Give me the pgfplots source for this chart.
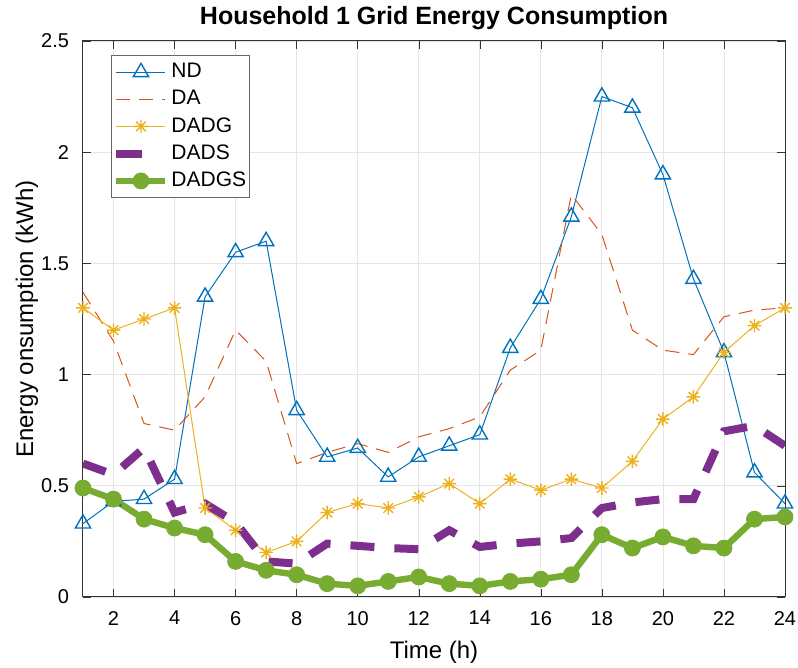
\documentclass[border=0pt]{standalone}
\usepackage{pgfplots}
\pgfplotsset{compat=1.18}
\usepackage{fontspec}
\setmainfont{Liberation Sans}
\definecolor{cND}{rgb}{0,0.447,0.741}
\definecolor{cDA}{rgb}{0.85,0.325,0.098}
\definecolor{cDADG}{rgb}{0.929,0.694,0.125}
\definecolor{cDADS}{rgb}{0.494,0.184,0.556}
\definecolor{cDADGS}{rgb}{0.466,0.674,0.188}
\pgfdeclareplotmark{mstar}{%
  \pgfpathmoveto{\pgfqpoint{0pt}{\pgfplotmarksize}}\pgfpathlineto{\pgfqpoint{0pt}{-\pgfplotmarksize}}%
  \pgfpathmoveto{\pgfqpoint{\pgfplotmarksize}{0pt}}\pgfpathlineto{\pgfqpoint{-\pgfplotmarksize}{0pt}}%
  \pgfpathmoveto{\pgfqpoint{0.707\pgfplotmarksize}{0.707\pgfplotmarksize}}\pgfpathlineto{\pgfqpoint{-0.707\pgfplotmarksize}{-0.707\pgfplotmarksize}}%
  \pgfpathmoveto{\pgfqpoint{-0.707\pgfplotmarksize}{0.707\pgfplotmarksize}}\pgfpathlineto{\pgfqpoint{0.707\pgfplotmarksize}{-0.707\pgfplotmarksize}}%
  \pgfusepathqstroke}
\begin{document}
\begin{tikzpicture}
\begin{axis}[
  scale only axis,
  width=351pt, height=278pt,
  xmin=1, xmax=24, ymin=0, ymax=2.5,
  xtick={2,4,...,24},
  ytick={0,0.5,1,1.5,2,2.5},
  yticklabels={0,0.5,1,1.5,2,2.5},
  tick align=inside,
  major tick length=4pt,
  grid=major,
  grid style={gray!20, line width=0.4pt},
  axis line style={black!80, line width=0.5pt},
  tick style={black!80},
  ticklabel style={font=\fontsize{10pt}{12pt}\selectfont},
  yticklabel style={xshift=-3.5pt},
  xticklabel style={yshift=-3.5pt},
  /pgf/number format/assume math mode=true,
  title={\bfseries Household 1 Grid Energy Consumption},
  every axis title shift=0pt,
  title style={font=\fontsize{12.5pt}{14pt}\selectfont, at={(axis description cs:0.5,1)}, anchor=center, yshift=11.5pt},
  xlabel={Time (h)},
  ylabel={Energy onsumption (kWh)},
  label style={font=\fontsize{12pt}{14pt}\selectfont},
  xlabel style={at={(axis description cs:0.5,0)}, anchor=center, yshift=-27.5pt},
  ylabel style={at={(axis description cs:0,0.5)}, anchor=center, yshift=28pt},
  legend style={at={(axis description cs:0,1)}, xshift=14pt, yshift=-7pt, anchor=north west, draw=black!60, line width=0.5pt,
     font=\fontsize{10.5pt}{12pt}\selectfont, row sep=1.8pt, inner xsep=0.5pt, inner ysep=2.5pt,
     nodes={inner xsep=1pt, inner ysep=1.5pt}},
  legend cell align=left,
  legend image code/.code={\draw[mark repeat=2,mark phase=2] plot coordinates {(0pt,0pt)(12.25pt,0pt)(24.5pt,0pt)};},
  clip=true,
]
\addplot[cND, line width=0.5pt, mark=triangle, mark size=4.4pt, mark options={solid, line width=0.7pt}] coordinates {
(1,0.33)(2,0.43)(3,0.44)(4,0.53)(5,1.35)(6,1.55)(7,1.6)(8,0.84)(9,0.63)(10,0.67)(11,0.54)(12,0.63)
(13,0.68)(14,0.73)(15,1.12)(16,1.34)(17,1.71)(18,2.25)(19,2.2)(20,1.9)(21,1.43)(22,1.1)(23,0.56)(24,0.42)};
\addlegendentry{ND}
\addplot[cDA, line width=0.5pt, dash pattern=on 7pt off 4.5pt] coordinates {
(1,1.37)(2,1.15)(3,0.78)(4,0.75)(5,0.9)(6,1.2)(7,1.06)(8,0.6)(9,0.65)(10,0.69)(11,0.65)(12,0.72)
(13,0.757)(14,0.81)(15,1.02)(16,1.11)(17,1.81)(18,1.63)(19,1.2)(20,1.11)(21,1.09)(22,1.26)(23,1.29)(24,1.3)};
\addlegendentry{DA}
\addplot[cDADG, line width=0.5pt, mark=mstar, mark size=3.4pt, mark options={solid, line width=0.7pt}] coordinates {
(1,1.3)(2,1.2)(3,1.25)(4,1.3)(5,0.4)(6,0.3)(7,0.2)(8,0.25)(9,0.38)(10,0.42)(11,0.4)(12,0.45)
(13,0.51)(14,0.42)(15,0.53)(16,0.48)(17,0.53)(18,0.49)(19,0.61)(20,0.8)(21,0.9)(22,1.1)(23,1.22)(24,1.3)};
\addlegendentry{DADG}
\addplot[cDADS, line width=4pt, dash pattern=on 12pt off 10pt,
  legend image code/.code={\draw[dash pattern=on 13pt off 20pt] (0pt,0pt) -- (24.5pt,0pt);}] coordinates {
(1,0.6)(2,0.55)(3,0.67)(4,0.38)(5,0.42)(6,0.335)(7,0.16)(8,0.15)(9,0.24)(10,0.23)(11,0.22)(12,0.215)
(13,0.3)(14,0.225)(15,0.24)(16,0.25)(17,0.265)(18,0.4)(19,0.425)(20,0.44)(21,0.44)(22,0.745)(23,0.77)(24,0.68)};
\addlegendentry{DADS}
\addplot[cDADGS, line width=3.2pt, mark=*, mark size=4pt, mark options={solid, line width=0.4pt}] coordinates {
(1,0.49)(2,0.44)(3,0.35)(4,0.31)(5,0.28)(6,0.16)(7,0.12)(8,0.1)(9,0.06)(10,0.05)(11,0.07)(12,0.09)
(13,0.06)(14,0.05)(15,0.07)(16,0.08)(17,0.1)(18,0.28)(19,0.22)(20,0.27)(21,0.23)(22,0.22)(23,0.35)(24,0.36)};
\addlegendentry{DADGS}
\end{axis}
\pgfresetboundingbox
\path[use as bounding box] ([shift={(-41.5pt,-35.5pt)}]current axis.south west) rectangle ([shift={(6.5pt,20.5pt)}]current axis.north east);
\end{tikzpicture}
\end{document}
